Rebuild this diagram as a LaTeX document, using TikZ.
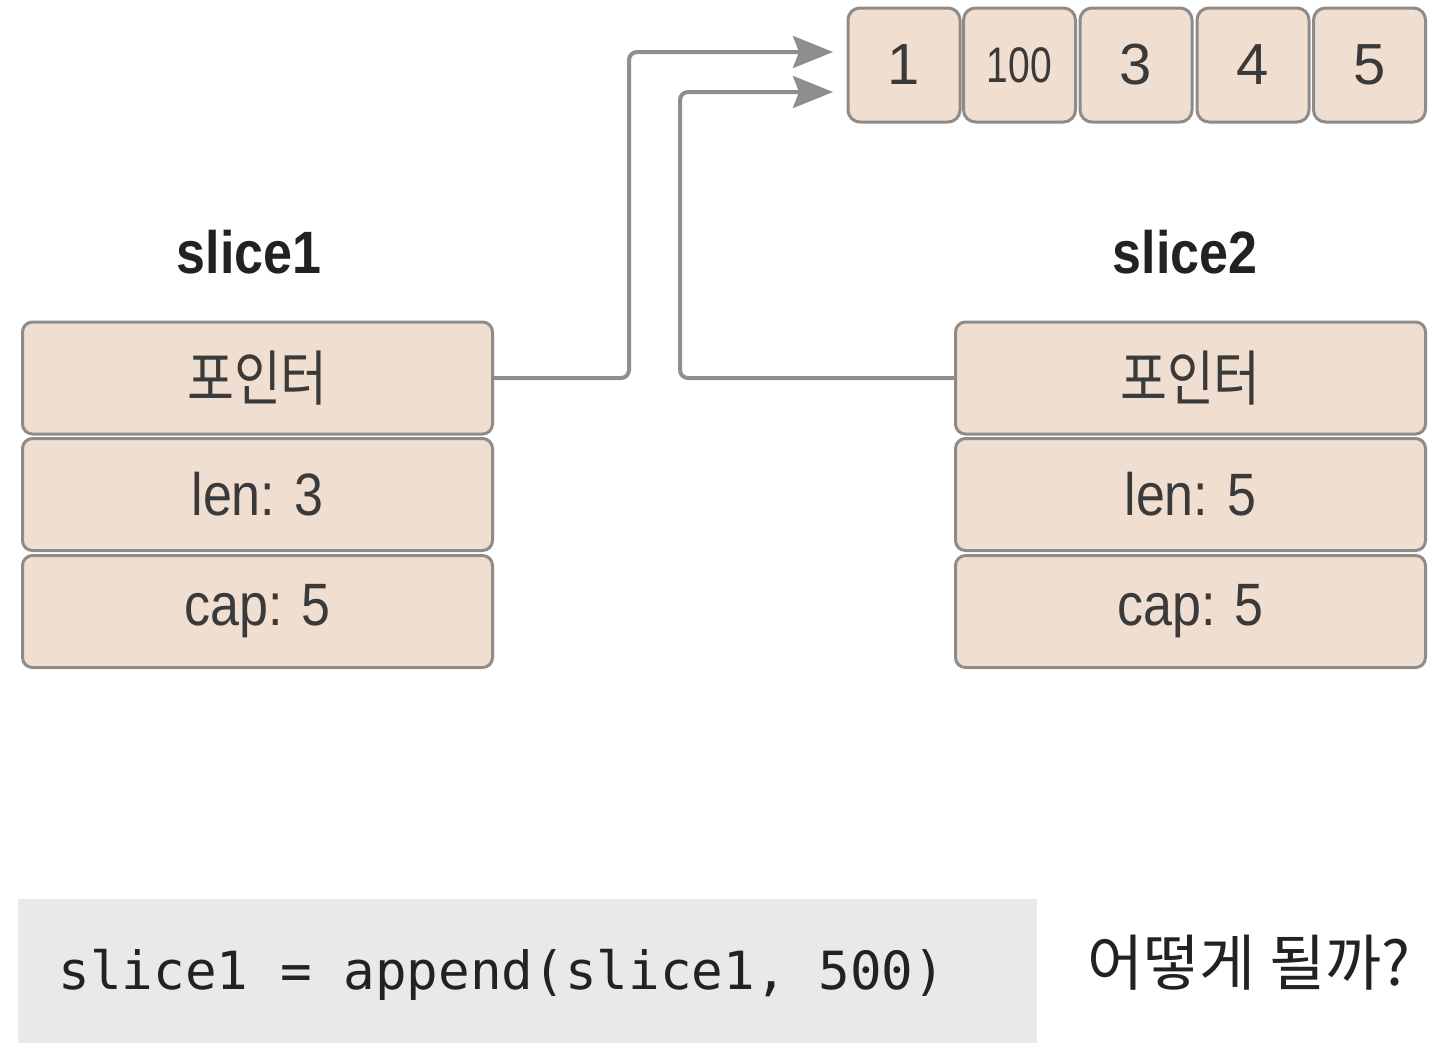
\documentclass[tikz,border=0pt]{standalone}
\usepackage{fontspec}
\setmainfont{Liberation Sans}
\newfontfamily\krfont{Noto Sans CJK KR}
\newfontfamily\codefont{DejaVu Sans Mono}
\usetikzlibrary{arrows.meta}
\definecolor{cellfill}{HTML}{F0DFD1}
\definecolor{celldraw}{HTML}{8F8B88}
\definecolor{linegray}{HTML}{8E8E8E}
\definecolor{codebg}{HTML}{E9E9E9}
\definecolor{txt}{HTML}{3A3A3A}
\definecolor{dark}{HTML}{222222}
\begin{document}
\begin{tikzpicture}[x=0.5pt,y=-0.5pt,
  rowbox/.style={draw=celldraw,line width=1.5pt,fill=cellfill,rounded corners=5pt,
    minimum width=235pt,minimum height=56pt,inner sep=0pt,text=txt},
  cellbox/.style={draw=celldraw,line width=1.5pt,fill=cellfill,rounded corners=6pt,
    minimum width=56pt,minimum height=57pt,inner sep=0pt,text=txt,
    font=\fontsize{29}{34}\selectfont},
  title/.style={font=\bfseries\fontsize{26}{30}\selectfont,text=dark,inner sep=0pt},
  conn/.style={draw=linegray,line width=2pt,rounded corners=4pt,
    -{Stealth[length=20pt,width=16pt,inset=3pt]}}
]
\useasboundingbox (0,0) rectangle (1440,1056);

% array
\node[cellbox] (c1) at (904,65) {1};
\node[cellbox] (c2) at (1019.5,65) {\scalebox{0.78}[1]{\fontsize{25}{30}\selectfont 100}};
\node[cellbox] (c3) at (1136,65) {3};
\node[cellbox] (c4) at (1253,65) {4};
\node[cellbox] (c5) at (1369.5,65) {5};

% slice1
\node[title] (s1) at (249,252) {\scalebox{1}[1.15]{slice1}};
\node[rowbox] (p1) at (257.5,378) {\scalebox{1.02}[1.2]{\krfont\fontsize{25}{30}\selectfont 포인터}};
\node[rowbox] (l1) at (257.5,494.5) {\scalebox{1}[1.15]{\fontsize{26}{32}\selectfont len: 3}};
\node[rowbox] (m1) at (257.5,611.5) {\scalebox{1}[1.15]{\fontsize{26}{32}\selectfont cap: 5}};

% slice2
\node[title] (s2) at (1185,252) {\scalebox{1}[1.15]{slice2}};
\node[rowbox] (q1) at (1190.5,378) {\scalebox{1.02}[1.2]{\krfont\fontsize{25}{30}\selectfont 포인터}};
\node[rowbox] (l2) at (1190.5,494.5) {\scalebox{1}[1.15]{\fontsize{26}{32}\selectfont len: 5}};
\node[rowbox] (m2) at (1190.5,611.5) {\scalebox{1}[1.15]{\fontsize{26}{32}\selectfont cap: 5}};

% connectors
\coordinate (k1) at (629,52);
\coordinate (t1) at (833,52);
\coordinate (k2) at (680,92);
\coordinate (t2) at (833,92);
\draw[conn] (p1.east) -| (k1) -- (t1);
\draw[conn] (q1.west) -| (k2) -- (t2);

% code
\node[fill=codebg,minimum width=509.5pt,minimum height=72pt,inner sep=0pt] (code) at (527.5,971) {};
\node[anchor=west,inner sep=0pt,text=dark,font=\codefont\fontsize{26.3}{30}\selectfont] (codetext) at (58,975) {slice1 = append(slice1, 500)};
\node[anchor=west,inner sep=0pt,text=dark,font=\krfont\fontsize{30.5}{36}\selectfont] (q) at (1087,963) {어떻게 될까?};
\end{tikzpicture}
\end{document}
